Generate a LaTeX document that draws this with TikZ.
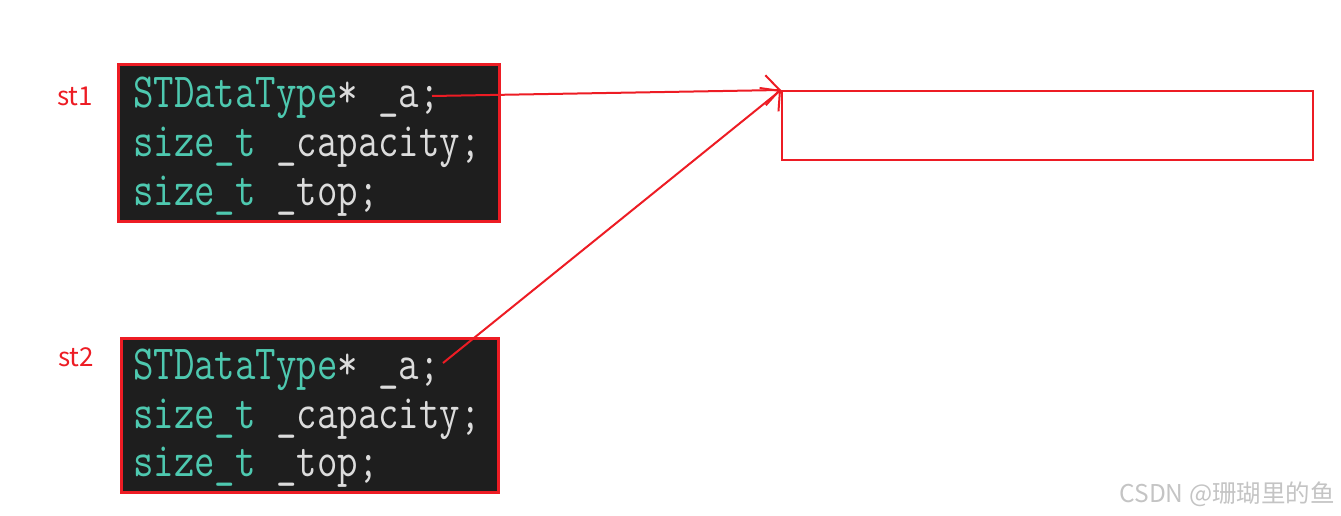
\documentclass[tikz,border=0pt]{standalone}
\usepackage{fontspec}
\usetikzlibrary{arrows.meta}
\newfontfamily\codefont[FakeStretch=0.81]{Latin Modern Mono}
\newfontfamily\labfont{Noto Sans CJK SC}
\newfontfamily\cjkfont{Noto Sans CJK SC}
\definecolor{pred}{HTML}{ED1C24}
\definecolor{codebg}{HTML}{1E1E1E}
\definecolor{typec}{HTML}{4EC9B0}
\definecolor{plainc}{HTML}{DCDCDC}
\definecolor{wm}{HTML}{C4C4C4}
\tikzset{
  codebox/.style={draw=pred, line width=3pt, fill=codebg, anchor=north west, inner sep=0pt},
  codeline/.style={anchor=base west, inner sep=0pt, font=\codefont\fontsize{49}{49}\selectfont, text=plainc},
  stlabel/.style={anchor=base west, inner sep=0pt, text=pred, font=\labfont\fontsize{26}{30}\selectfont},
  memblock/.style={draw=pred, line width=2pt, anchor=north west, inner sep=0pt},
  ptr/.style={draw=pred, line width=2pt, -{Straight Barb[length=14pt,width=30pt,line width=2pt]}},
}
\begin{document}
\begin{tikzpicture}[x=1pt,y=-1pt]
\useasboundingbox (0,0) rectangle (1341,516);
% struct boxes
\node[codebox, minimum width=381pt, minimum height=157pt] (box1) at (117,63) {};
\node[codebox, minimum width=377pt, minimum height=154pt] (box2) at (120,337) {};
% code lines st1
\node[codeline] (l11) at (133,108) {\textcolor{typec}{STDataType}* \_a;};
\node[codeline] (l12) at (133,157) {\textcolor{typec}{size\_t} \_capacity;};
\node[codeline] (l13) at (133,205) {\textcolor{typec}{size\_t} \_top;};
% code lines st2
\node[codeline] (l21) at (133,379) {\textcolor{typec}{STDataType}* \_a;};
\node[codeline] (l22) at (133,428) {\textcolor{typec}{size\_t} \_capacity;};
\node[codeline] (l23) at (133,476) {\textcolor{typec}{size\_t} \_top;};
% labels
\node[stlabel] (st1) at (57,106) {st1};
\node[stlabel] (st2) at (58,366) {st2};
% memory block
\node[memblock, minimum width=531pt, minimum height=69pt] (mem) at (781,90) {};
% pointers
\coordinate (a1) at (432,96);
\coordinate (a2) at (443,363);
\draw[ptr] (a1) -- (mem.north west);
\draw[ptr] (a2) -- (mem.north west);
% watermark
\node[anchor=base east, inner sep=0pt, text=wm, font=\cjkfont\fontsize{24.5}{27}\selectfont] (wmk) at (1335,502) {CSDN @珊瑚里的鱼};
\end{tikzpicture}
\end{document}
